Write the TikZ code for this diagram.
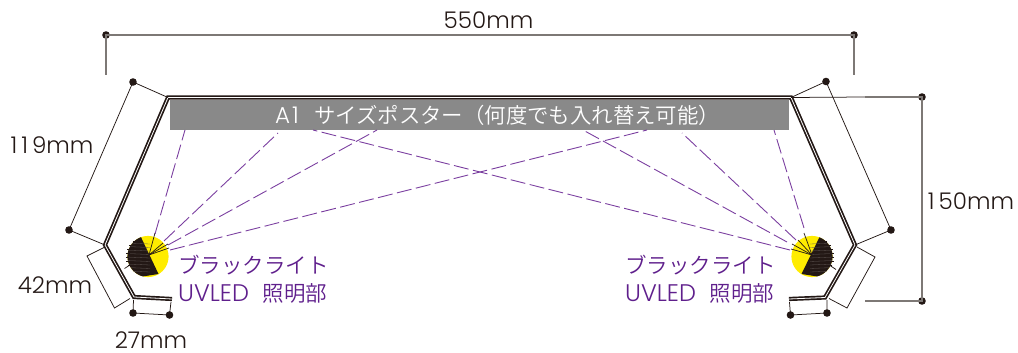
\documentclass[tikz,border=0pt]{standalone}
\usepackage{fontspec}
\setmainfont{Poppins Light}
\newfontfamily\jpfont{Noto Sans CJK JP DemiLight}
\newfontfamily\latfont{Poppins Light}
\definecolor{ink}{HTML}{231815}
\definecolor{poster}{HTML}{898989}
\definecolor{dimgray}{HTML}{7D7875}
\definecolor{beam}{HTML}{7B3FA0}
\definecolor{lbl}{HTML}{5F1F8C}
\definecolor{lamp}{HTML}{FFEC00}
\tikzset{
  pt/.style={circle,fill=ink,inner sep=0pt,minimum size=7.6pt},
  dimthin/.style={draw=ink,line width=.75pt},
  dimgrey/.style={draw=dimgray,line width=1.2pt},
  beamline/.style={draw=beam,line width=.9pt,dash pattern=on 15pt off 4.5pt},
  fan/.style={draw=ink,line width=.7pt},
  dimtext/.style={text=ink,font=\fontsize{23}{23}\selectfont,inner sep=0pt},
  lamplabel/.style={text=lbl,font=\jpfont\fontsize{21.5}{28}\selectfont,align=left,inner sep=0pt,anchor=west},
}
\begin{document}
\begin{tikzpicture}[x=1pt,y=-1pt]
\useasboundingbox (0,0) rectangle (1018,353);
% shelf corners
\coordinate (tl) at (168,97.5);
\coordinate (tr) at (791,97.5);
\coordinate (bl) at (105,245);
\coordinate (br) at (855,245);
\coordinate (ll) at (134,297);
\coordinate (lr) at (825,297.5);
\coordinate (el) at (172,299);
\coordinate (er) at (789,299);
% poster
\fill[poster] (170,100) rectangle (789,130);
\node[text=white,font=\jpfont\fontsize{21.4}{21.4}\selectfont,inner sep=0pt,anchor=west] (ptext) at (275,115) {{\latfont\fontsize{23}{23}\selectfont A\kern2pt 1\kern9pt\ }サイズポスター（何度でも入れ替え可能）};
% beams
\coordinate (a1) at (155,234); \coordinate (a2) at (164,241); \coordinate (a3) at (168,245); \coordinate (a4) at (170,250);
\coordinate (b1) at (185,130); \coordinate (b2) at (278,133); \coordinate (b3) at (377,130); \coordinate (b4) at (647,130);
\coordinate (c1) at (804,228); \coordinate (c2) at (796,240); \coordinate (c3) at (787,242); \coordinate (c4) at (790,250);
\coordinate (d1) at (774,130); \coordinate (d2) at (682,133); \coordinate (d3) at (583,130); \coordinate (d4) at (313,130);
\foreach \i in {1,2,3,4} {
  \draw[beamline] (a\i) -- (b\i);
  \draw[beamline] (c\i) -- (d\i);
}
% lamps
\coordinate (lc) at (148,256.5);
\coordinate (rc) at (812,256.5);
\fill[lamp] (lc) circle (20.6pt);
\fill[lamp] (rc) circle (20.6pt);
\begin{scope}
  \clip (lc) circle (20.6pt);
  \fill[ink] (139.5,234) -- (158.5,274) -- (120,280) -- (120,234) -- cycle;
  \foreach \y in {243,246.5,...,272} \draw[ink!72!white,line width=.3pt] (126,\y) -- (150,\y+1);
\end{scope}
\begin{scope}
  \clip (rc) circle (20.6pt);
  \fill[ink] (821,234) -- (801.5,274) -- (840,280) -- (840,234) -- cycle;
  \foreach \y in {243,246.5,...,272} \draw[ink!72!white,line width=.3pt] (810,\y+1) -- (834,\y);
\end{scope}
\foreach \y in {241,245,...,268} {
  \pgfmathsetmacro{\dx}{sqrt(20.6*20.6-(\y-256.5)*(\y-256.5))}
  \draw[ink,line width=.4pt] (148-\dx-1.5,\y) -- (148-\dx+2,\y);
  \draw[ink,line width=.4pt] (812+\dx+1.5,\y) -- (812+\dx-2,\y);
}
% lamp fans and stubs
\coordinate (lf) at (149,255);
\coordinate (rf) at (812,255);
\coordinate (lf1) at (155,233); \coordinate (lf2) at (163,243); \coordinate (lf3) at (168,244); \coordinate (lf4) at (169,248);
\coordinate (rf1) at (804,233); \coordinate (rf2) at (798,240); \coordinate (rf3) at (792,244); \coordinate (rf4) at (791,249);
\foreach \i in {1,2,3,4} {
  \draw[fan] (lf) -- (lf\i);
  \draw[fan] (rf) -- (rf\i);
}
\coordinate (ls1) at (124.5,268.5); \coordinate (ls2) at (130,265);
\coordinate (rs1) at (836,269.5); \coordinate (rs2) at (830,265.5);
\draw[fan] (ls1) -- (ls2);
\draw[fan] (rs1) -- (rs2);
% shelf
\foreach \w/\c in {4.2pt/ink,.8pt/white}
  \draw[\c,line width=\w,line join=miter] (el) -- (ll) -- (bl) -- (tl) -- (tr) -- (br) -- (lr) -- (er);
% dimension points
\node[pt] (p550a) at (106,35) {};
\node[pt] (p550b) at (854,35) {};
\coordinate (t550a) at (106,75);
\coordinate (t550b) at (854,75);
\node[pt] (l119a) at (133,82) {};
\node[pt] (l119b) at (69,230) {};
\node[pt] (r119a) at (826,81.5) {};
\node[pt] (r119b) at (891,230) {};
\node[pt] (l27a) at (133,313) {};
\node[pt] (l27b) at (169.5,315) {};
\node[pt] (r27a) at (790.5,315) {};
\node[pt] (r27b) at (827,313) {};
\node[pt] (h150a) at (922,97) {};
\node[pt] (h150b) at (922,301) {};
\draw[dimgrey] (t550a) -- (p550a.center) -- (p550b.center) -- (t550b);
\draw[dimthin] (tl) -- (l119a.center) -- (l119b.center) -- (bl);
\draw[dimthin] (tr) -- (r119a.center) -- (r119b.center) -- (br);
% 42mm brackets
\coordinate (l42a) at (105,247); \coordinate (l42b) at (87,256); \coordinate (l42c) at (114.5,308); \coordinate (l42d) at (130,298.5);
\coordinate (r42a) at (857,247); \coordinate (r42b) at (875,257); \coordinate (r42c) at (847,308); \coordinate (r42d) at (829,298.5);
\draw[dimthin] (l42a) -- (l42b) -- (l42c) -- (l42d);
\draw[dimthin] (r42a) -- (r42b) -- (r42c) -- (r42d);
% 27mm brackets
\coordinate (l27c) at (133.5,300); \coordinate (l27d) at (171,302);
\coordinate (r27c) at (789.5,302); \coordinate (r27d) at (827,300);
\draw[dimthin] (l27c) -- (l27a.center) -- (l27b.center) -- (l27d);
\draw[dimthin] (r27c) -- (r27a.center) -- (r27b.center) -- (r27d);
% 150mm
\coordinate (h150c) at (865,301);
\draw[dimthin] (tr) -- (865,97);
\draw[dimgrey] (865,97) -- (h150a.center) -- (h150b.center) -- (h150c);
% texts
\node[dimtext] (t550) at (488.5,20) {550mm};
\node[dimtext] (t119) at (52,145) {1\kern4pt 1\kern4pt 9mm};
\node[dimtext] (t42) at (55,285) {42mm};
\node[dimtext] (t27) at (151,340) {27mm};
\node[dimtext] (t150) at (971,201.5) {1\kern4pt 50mm};
\node[lamplabel] (la) at (178,279) {ブラックライト\\{\latfont\fontsize{24}{28}\selectfont UVLED\kern7pt\ }照明部};
\node[lamplabel] (lb) at (625,279) {ブラックライト\\{\latfont\fontsize{24}{28}\selectfont UVLED\kern7pt\ }照明部};
\end{tikzpicture}
\end{document}
